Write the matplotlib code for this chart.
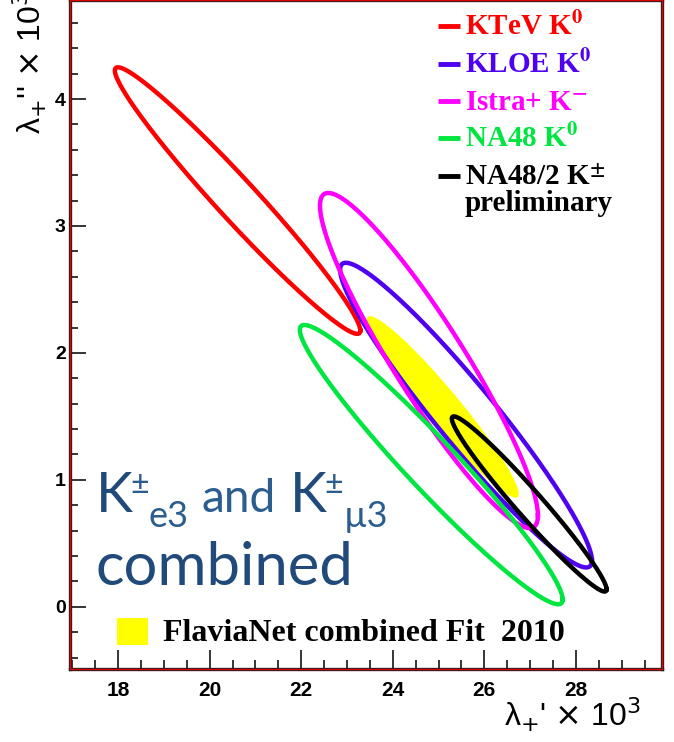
import numpy as np
import matplotlib
matplotlib.use("Agg")
import matplotlib.pyplot as plt
from matplotlib.ticker import MultipleLocator

plt.rcParams['mathtext.fontset'] = 'custom'
plt.rcParams['mathtext.rm'] = 'Lato'
plt.rcParams['mathtext.it'] = 'Lato:italic'
plt.rcParams['mathtext.bf'] = 'Lato:bold'

# 1-sigma contours: centre, half extent in x and y, correlation
names = ["KTeV", "KLOE", "Istra+", "NA48", "NA48/2"]
x0 = [20.61, 25.60, 24.79, 24.84, 26.98]
y0 = [3.20, 1.51, 1.94, 1.12, 0.81]
dx = [2.68, 2.75, 2.38, 2.87, 1.69]
dy = [1.05, 1.20, 1.32, 1.10, 0.69]
rho = [-0.975, -0.954, -0.924, -0.965, -0.974]
colors = ["#ff0000", "#5000f0", "#ff00ff", "#00e640", "#000000"]
legend_txt = [r"KTeV K$^{\mathbf{0}}$", r"KLOE K$^{\mathbf{0}}$",
              r"Istra+ K$^{\mathbf{-}}$", r"NA48 K$^{\mathbf{0}}$",
              r"NA48/2 K$^{\mathbf{\pm}}$"]

# FlaviaNet combined fit
fit_x0, fit_y0, fit_dx, fit_dy, fit_rho = 25.09, 1.575, 1.66, 0.715, -0.958


def contour(xc, yc, ax_, ay_, r):
    t = np.linspace(0, 2 * np.pi, 400)
    return xc + ax_ * np.cos(t), yc + ay_ * np.cos(t - np.arccos(r))


W, H = 674, 742
fig = plt.figure(figsize=(W / 100, H / 100), dpi=100)
ax = fig.add_axes([70 / W, 1 - 669 / H, 592 / W, 669 / H])


def ftext(px, py, s, **kw):
    # place text by pixel position from the top-left corner
    return fig.text(px / W, 1 - py / H, s, **kw)


fx, fy = contour(fit_x0, fit_y0, fit_dx, fit_dy, fit_rho)
ax.fill(fx, fy, color="#ffff00", lw=0, zorder=1)

order = [0, 3, 1, 2, 4]
for i in order:
    ex, ey = contour(x0[i], y0[i], dx[i], dy[i], rho[i])
    ax.plot(ex, ey, color=colors[i], lw=3.2, zorder=2 + i)

ax.set_xlim(16.95, 29.88)
ax.set_ylim(-0.49, 4.78)
ax.xaxis.set_major_locator(MultipleLocator(2))
ax.xaxis.set_minor_locator(MultipleLocator(0.5))
ax.yaxis.set_major_locator(MultipleLocator(1))
ax.yaxis.set_minor_locator(MultipleLocator(0.2))
ax.tick_params(axis="x", which="major", direction="in", length=13.5, width=1.1,
               pad=9, labelsize=15)
ax.tick_params(axis="x", which="minor", direction="in", length=6.5, width=1.1)
ax.tick_params(axis="y", which="major", direction="in", length=11.5, width=1.1,
               pad=3, labelsize=14)
ax.tick_params(axis="y", which="minor", direction="in", length=5.5, width=1.1)
ax.tick_params(top=False, right=False, which="both")
for lab in ax.get_xticklabels() + ax.get_yticklabels():
    lab.set_fontfamily("Liberation Sans")
    lab.set_fontweight("bold")

for s in ax.spines.values():
    s.set_color("#202020")
    s.set_linewidth(2.4)
ax.add_patch(plt.Rectangle((0, 0), 1, 1, transform=ax.transAxes, fill=False,
                           edgecolor="#e00000", lw=1.0, zorder=20, clip_on=False))

# legend
rows_y = [35, 73, 110, 147, 185]
for i, by in enumerate(rows_y):
    ax.plot([(438 - 70) / 592, (460 - 70) / 592],
            [(669 - by + 9) / 669] * 2, transform=ax.transAxes,
            color=colors[i], lw=3.5, solid_capstyle="butt", clip_on=False)
    ftext(465, by, legend_txt[i], color=colors[i],
          fontfamily="Liberation Serif", fontweight="bold", fontsize=21,
          math_fontfamily="stix", va="baseline", ha="left")
ftext(465, 211, "preliminary", color="black",
      fontfamily="Liberation Serif", fontweight="bold", fontsize=21,
      va="baseline", ha="left")

ax.add_patch(plt.Rectangle(((117 - 70) / 592, (669 - 645) / 669), 31 / 592, 27 / 669,
                           transform=ax.transAxes, color="#ffff00", lw=0))
ftext(163, 641, "FlaviaNet combined Fit  2010", color="black",
      fontfamily="Liberation Serif", fontweight="bold", fontsize=23,
      va="baseline", ha="left")

# channel annotation
navy = "#1f4a7a"
light = "#2b5d8e"
fam = ["Lato", "DejaVu Sans"]
ftext(96, 512, "K", color=navy, family=fam, fontsize=40, va="baseline")
ftext(130, 494, "±", color=light, family=fam, fontsize=23, va="baseline")
ftext(148, 527, "e3", color=light, family=fam, fontsize=26, va="baseline")
ftext(201, 512, "and", color=light, family=fam, fontsize=33, va="baseline")
ftext(290, 512, "K", color=navy, family=fam, fontsize=40, va="baseline")
ftext(324, 494, "±", color=light, family=fam, fontsize=23, va="baseline")
ftext(344, 527, "µ3", color=light, family=fam, fontsize=26, va="baseline")
ftext(95, 585, "combined", color=navy, family=fam, fontsize=43, va="baseline")

# axis titles
ftext(504, 727, r"λ$_{+}$' $\times$ 10$^{3}$",
      fontfamily="Liberation Sans", fontsize=23, math_fontfamily="dejavusans",
      va="baseline", ha="left")
ftext(30, 134, r"λ$_{+}$'' $\times$ 10$^{3}$",
      fontfamily="Liberation Sans", fontsize=23, math_fontfamily="dejavusans",
      rotation=90, va="bottom", ha="center")

fig.savefig("out.png", dpi=100)
